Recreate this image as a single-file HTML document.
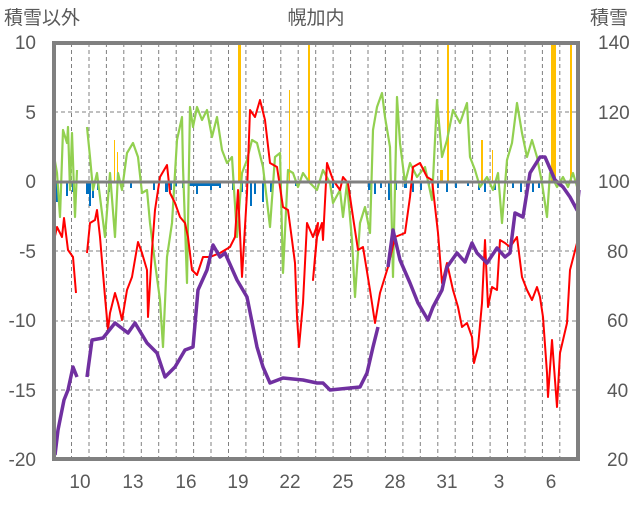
<!DOCTYPE html>
<html><head><meta charset="utf-8"><style>
body{margin:0;background:#fff}
text{font-family:"Liberation Sans","Noto Sans CJK JP",sans-serif;fill:#595959;font-size:19px}
</style></head><body>
<svg width="636" height="501" xmlns="http://www.w3.org/2000/svg">
<rect width="636" height="501" fill="#fff"/>
<g stroke="#808080" stroke-width="1" stroke-dasharray="4,3">
<line x1="54" y1="112" x2="578" y2="112"/><line x1="54" y1="251" x2="578" y2="251"/><line x1="54" y1="321" x2="578" y2="321"/><line x1="54" y1="390" x2="578" y2="390"/>
<line x1="71.5" y1="43" x2="71.5" y2="459"/><line x1="89" y1="43" x2="89" y2="459"/><line x1="106.4" y1="43" x2="106.4" y2="459"/><line x1="123.8" y1="43" x2="123.8" y2="459"/><line x1="141.3" y1="43" x2="141.3" y2="459"/><line x1="158.7" y1="43" x2="158.7" y2="459"/><line x1="176.2" y1="43" x2="176.2" y2="459"/><line x1="193.6" y1="43" x2="193.6" y2="459"/><line x1="211" y1="43" x2="211" y2="459"/><line x1="228.5" y1="43" x2="228.5" y2="459"/><line x1="245.9" y1="43" x2="245.9" y2="459"/><line x1="263.4" y1="43" x2="263.4" y2="459"/><line x1="280.8" y1="43" x2="280.8" y2="459"/><line x1="298.2" y1="43" x2="298.2" y2="459"/><line x1="315.7" y1="43" x2="315.7" y2="459"/><line x1="333.1" y1="43" x2="333.1" y2="459"/><line x1="350.6" y1="43" x2="350.6" y2="459"/><line x1="368" y1="43" x2="368" y2="459"/><line x1="385.4" y1="43" x2="385.4" y2="459"/><line x1="402.9" y1="43" x2="402.9" y2="459"/><line x1="420.3" y1="43" x2="420.3" y2="459"/><line x1="437.8" y1="43" x2="437.8" y2="459"/><line x1="455.2" y1="43" x2="455.2" y2="459"/><line x1="472.6" y1="43" x2="472.6" y2="459"/><line x1="490.1" y1="43" x2="490.1" y2="459"/><line x1="507.5" y1="43" x2="507.5" y2="459"/><line x1="525" y1="43" x2="525" y2="459"/><line x1="542.4" y1="43" x2="542.4" y2="459"/><line x1="559.8" y1="43" x2="559.8" y2="459"/>
</g>
<g fill="#0070c0">
<rect x="56" y="182" width="2" height="20"/><rect x="60" y="182" width="2" height="8"/><rect x="66" y="182" width="2" height="14"/><rect x="72" y="182" width="2" height="10"/><rect x="86" y="182" width="3" height="12"/><rect x="89" y="182" width="2" height="24"/><rect x="92" y="182" width="2" height="16"/><rect x="97" y="182" width="2" height="8"/><rect x="108" y="182" width="2" height="10"/><rect x="130" y="182" width="2" height="6"/><rect x="153" y="182" width="2" height="8"/><rect x="165" y="182" width="3" height="10"/><rect x="170" y="182" width="2" height="8"/><rect x="175" y="182" width="2" height="4"/><rect x="182" y="182" width="2" height="6"/><rect x="189" y="182" width="30" height="4"/><rect x="196" y="182" width="2" height="12"/><rect x="210" y="182" width="2" height="8"/><rect x="219" y="182" width="2" height="6"/><rect x="232" y="182" width="2" height="8"/><rect x="240" y="182" width="3" height="10"/><rect x="250" y="182" width="2" height="24"/><rect x="254" y="182" width="2" height="12"/><rect x="262" y="182" width="2" height="20"/><rect x="270" y="182" width="2" height="10"/><rect x="280" y="182" width="2" height="6"/><rect x="295" y="182" width="2" height="4"/><rect x="332" y="182" width="2" height="6"/><rect x="368" y="182" width="3" height="8"/><rect x="374" y="182" width="2" height="12"/><rect x="380" y="182" width="2" height="6"/><rect x="388" y="182" width="2" height="18"/><rect x="395" y="182" width="2" height="8"/><rect x="404" y="182" width="3" height="6"/><rect x="412" y="182" width="2" height="10"/><rect x="420" y="182" width="2" height="8"/><rect x="428" y="182" width="2" height="4"/><rect x="437" y="182" width="2" height="6"/><rect x="446" y="182" width="2" height="10"/><rect x="455" y="182" width="2" height="6"/><rect x="467" y="182" width="2" height="4"/><rect x="478" y="182" width="2" height="8"/><rect x="484" y="182" width="2" height="10"/><rect x="494" y="182" width="2" height="8"/><rect x="512" y="182" width="2" height="6"/><rect x="520" y="182" width="2" height="10"/><rect x="526" y="182" width="2" height="14"/><rect x="532" y="182" width="2" height="10"/><rect x="538" y="182" width="2" height="6"/>
</g>
<g fill="#ffc000">
<rect x="238" y="43" width="3" height="139"/><rect x="114" y="140" width="1" height="42"/><rect x="117" y="152" width="1" height="30"/><rect x="289" y="90" width="1" height="92"/><rect x="308" y="43" width="2" height="139"/><rect x="447" y="43" width="2" height="139"/><rect x="481" y="140" width="2" height="42"/><rect x="492" y="150" width="1" height="32"/><rect x="551" y="43" width="5" height="139"/><rect x="570" y="43" width="2" height="139"/><rect x="440" y="170" width="3" height="12"/>
</g>
<g fill="none" stroke-linejoin="round">
<polyline stroke="#92d050" stroke-width="2.2" points="53,150 57,173 60,217 63,130 67,143 68,127 70,190 72,133 75,217 77,170"/>
<polyline stroke="#92d050" stroke-width="2.2" points="87,127 90,157 93,190 97,173 100,197 105,237 110,173 115,237 118,173 122,190 127,153 133,143 138,157 142,193 147,190 150,223 155,263 160,300 163,347 167,257 172,223 177,140 182,117 183,167 187,283 190,107 193,127 197,107 202,120 207,110 212,137 217,117 222,150 227,163 232,157 237,237 242,173 247,160 252,140 257,143 263,167 270,227 275,157 280,153 283,273 288,170 293,173 298,187 303,173 310,183 317,190 323,170 330,183 333,203 340,190 343,217 347,183 352,240 355,297 360,223 365,207 370,233 373,130 377,107 382,93 385,117 390,147 393,277 397,97 400,143 405,183 410,163 417,177 425,167 432,200 437,100 442,157 447,140 453,110 460,123 467,103 470,157 475,170 480,187 487,177 493,190 498,173 502,223 507,160 512,143 517,103 522,133 527,157 532,140 537,157 542,183 547,217 550,173 557,187 563,177 568,187 573,173 578,190"/>
<polyline stroke="#ff0000" stroke-width="2" points="53,245 57,227 62,237 64,218 68,250 73,257 76,293"/>
<polyline stroke="#ff0000" stroke-width="2" points="87,253 90,223 95,220 97,210 100,237 103,273 105,297 108,330 110,313 115,293 118,303 122,320 127,290 132,277 138,242 142,253 147,270 148,317 152,250 155,210 160,177 167,165 170,193 175,203 180,217 185,223 188,237 192,270 197,275 203,257 210,257 220,253 230,247 235,237 238,190 242,277 247,193 250,110 255,117 260,100 265,120 270,163 277,167 283,207 288,210 292,240 295,263 297,317 299,347 303,303 307,223 313,237 318,223 313,280 317,237 322,223 323,240 327,163 333,180 340,190 343,177 348,183 353,217 358,250 363,247 370,290 375,323 380,293 388,267 395,237 405,233 410,197 413,167 420,163 427,177 432,180 438,233 442,283 447,263 453,290 458,307 462,327 467,323 472,337 474,363 478,347 482,303 485,240 488,307 492,287 497,290 500,240 505,243 510,247 517,237 522,277 527,290 532,300 537,287 540,297 543,317 547,373 548,397 552,340 557,407 560,353 567,323 570,270 577,243"/>
<polyline stroke="#7030a0" stroke-width="3.5" points="55,455 58,430 60,420 64,400 68,390 73,367 77,377"/>
<polyline stroke="#7030a0" stroke-width="3.5" points="87,377 92,340 103,338 115,323 128,333 135,323 147,343 157,353 165,377 175,367 185,350 193,347 198,290 207,270 213,245 220,257 225,253 237,280 247,297 257,347 263,367 270,383 283,378 303,380 317,383 323,383 330,390 360,387 367,373 373,347 378,327"/>
<polyline stroke="#7030a0" stroke-width="3.5" points="388,267 393,230 400,260 410,283 418,303 428,320 433,307 442,290 447,267 457,253 465,262 472,243 477,253 487,263 497,248 505,257 510,253 515,213 523,217 530,173 540,157 545,157 555,180 563,187 570,197 577,210 579,190"/>
</g>
<rect x="54" y="43" width="524" height="416" fill="none" stroke="#808080" stroke-width="4"/>
<line x1="54" y1="182" x2="578" y2="182" stroke="#808080" stroke-width="3"/>
<g text-anchor="end">
<text x="36" y="49">10</text><text x="36" y="119">5</text><text x="36" y="188">0</text><text x="36" y="258">-5</text><text x="36" y="327">-10</text><text x="36" y="397">-15</text><text x="36" y="466">-20</text>
</g>
<g text-anchor="start">
<text x="598" y="49">140</text><text x="598" y="119">120</text><text x="598" y="188">100</text><text x="607" y="258">80</text><text x="607" y="327">60</text><text x="607" y="397">40</text><text x="607" y="466">20</text>
</g>
<g text-anchor="middle">
<text x="80" y="488">10</text><text x="133" y="488">13</text><text x="186" y="488">16</text><text x="238" y="488">19</text><text x="290" y="488">22</text><text x="343" y="488">25</text><text x="395" y="488">28</text><text x="447" y="488">31</text><text x="499" y="488">3</text><text x="551" y="488">6</text>
<text x="316" y="24">幌加内</text>
</g>
<text x="4" y="24">積雪以外</text>
<text x="590" y="24">積雪</text>
</svg>
</body></html>
